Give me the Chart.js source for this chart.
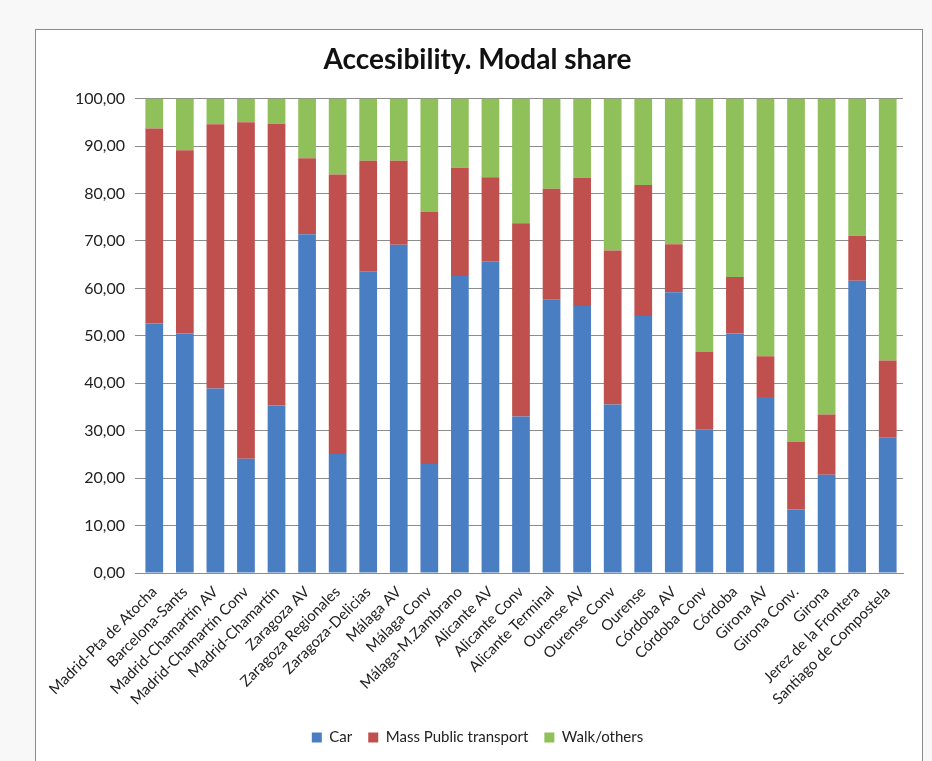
<!DOCTYPE html>
<html>
<head>
<meta charset="utf-8">
<script src="https://cdn.jsdelivr.net/npm/chart.js@4/dist/chart.umd.min.js"></script>
<style>
    html, body { margin: 0; padding: 0; background: #f8f8f8; }
    #frame {
        position: absolute; left: 35px; top: 29px; width: 886px; height: 760px;
        border: 1px solid #8c8c8c; background: #fff;
    }
    #wrap { position: absolute; left: 0; top: 0; width: 932px; height: 761px; }
</style>
</head>
<body>
<div id="frame"></div>
<div id="wrap"><canvas id="chart" width="932" height="761"></canvas></div>
<script>
const stations = [
    'Madrid-Pta de Atocha', 'Barcelona-Sants', 'Madrid-Chamartín AV', 'Madrid-Chamartín Conv',
    'Madrid-Chamartín', 'Zaragoza AV', 'Zaragoza Regionales', 'Zaragoza-Delicias', 'Málaga AV',
    'Málaga Conv', 'Málaga-M.Zambrano', 'Alicante AV', 'Alicante Conv', 'Alicante Terminal',
    'Ourense AV', 'Ourense Conv', 'Ourense', 'Córdoba AV', 'Córdoba Conv', 'Córdoba',
    'Girona AV', 'Girona Conv.', 'Girona', 'Jerez de la Frontera', 'Santiago de Compostela'
];
const car = [52.6, 50.5, 38.9, 24.1, 35.3, 71.4, 25.1, 63.6, 69.2, 23.0, 62.6, 65.7, 33.0,
    57.6, 56.3, 35.5, 54.2, 59.2, 30.3, 50.5, 37.1, 13.4, 20.7, 61.6, 28.5];
const massTransport = [41.1, 38.6, 55.7, 70.9, 59.4, 16.0, 58.9, 23.3, 17.7, 53.1, 22.8, 17.7, 40.7,
    23.4, 27.0, 32.5, 27.6, 10.1, 16.3, 11.9, 8.6, 14.2, 12.7, 9.5, 16.3];
const walkOthers = [6.3, 10.9, 5.4, 5.0, 5.3, 12.6, 16.0, 13.1, 13.1, 23.9, 14.6, 16.6, 26.3,
    19.0, 16.7, 32.0, 18.2, 30.7, 53.4, 37.6, 54.3, 72.4, 66.6, 28.9, 55.2];
const yTicks = [0, 10, 20, 30, 40, 50, 60, 70, 80, 90, 100];

const FONT = 'Lato, "Open Sans", sans-serif';

const bar = (label, data, color) => ({
    label, data,
    backgroundColor: color,
    borderWidth: 0,
    categoryPercentage: 1,
    barPercentage: 0.58
});

new Chart(document.getElementById('chart'), {
    type: 'bar',
    data: {
        labels: stations,
        datasets: [
            bar('Car', car, '#4a7ec2'),
            bar('Mass Public transport', massTransport, '#c0504d'),
            bar('Walk/others', walkOthers, '#8fc05a')
        ]
    },
    options: {
        responsive: false,
        animation: false,
        // left padding a bit larger so title and legend sit centred like the original
        layout: { padding: { top: 30, left: 52, right: 29, bottom: 6 } },
        plugins: {
            title: {
                display: true,
                text: 'Accesibility. Modal share',
                color: '#111',
                font: { family: FONT, size: 28, weight: 'bold' },
                padding: { top: 13, bottom: 22 }
            },
            legend: {
                position: 'bottom',
                labels: {
                    color: '#222',
                    font: { family: FONT, size: 15 },
                    boxWidth: 10, boxHeight: 10,
                    padding: 16
                }
            },
            tooltip: { enabled: false }
        },
        scales: {
            x: {
                stacked: true,
                grid: { display: false },
                border: { display: true, color: '#8c8c8c', width: 1 },
                ticks: {
                    color: '#222',
                    font: { family: FONT, size: 15 },
                    minRotation: 45, maxRotation: 45,
                    autoSkip: false, padding: 2
                },
                afterFit: s => { s.height = 141; }
            },
            y: {
                stacked: true,
                min: 0, max: 100,
                afterBuildTicks: s => { s.ticks = yTicks.map(v => ({ value: v })); },
                grid: { color: '#8c8c8c', lineWidth: 1, drawTicks: true, tickLength: 4 },
                border: { display: false },
                ticks: {
                    color: '#222',
                    font: { family: FONT, size: 16 },
                    padding: 10,
                    callback: v => v.toFixed(2).replace('.', ',')
                },
                afterFit: s => { s.width = 87; }
            }
        }
    }
});
</script>
</body>
</html>
